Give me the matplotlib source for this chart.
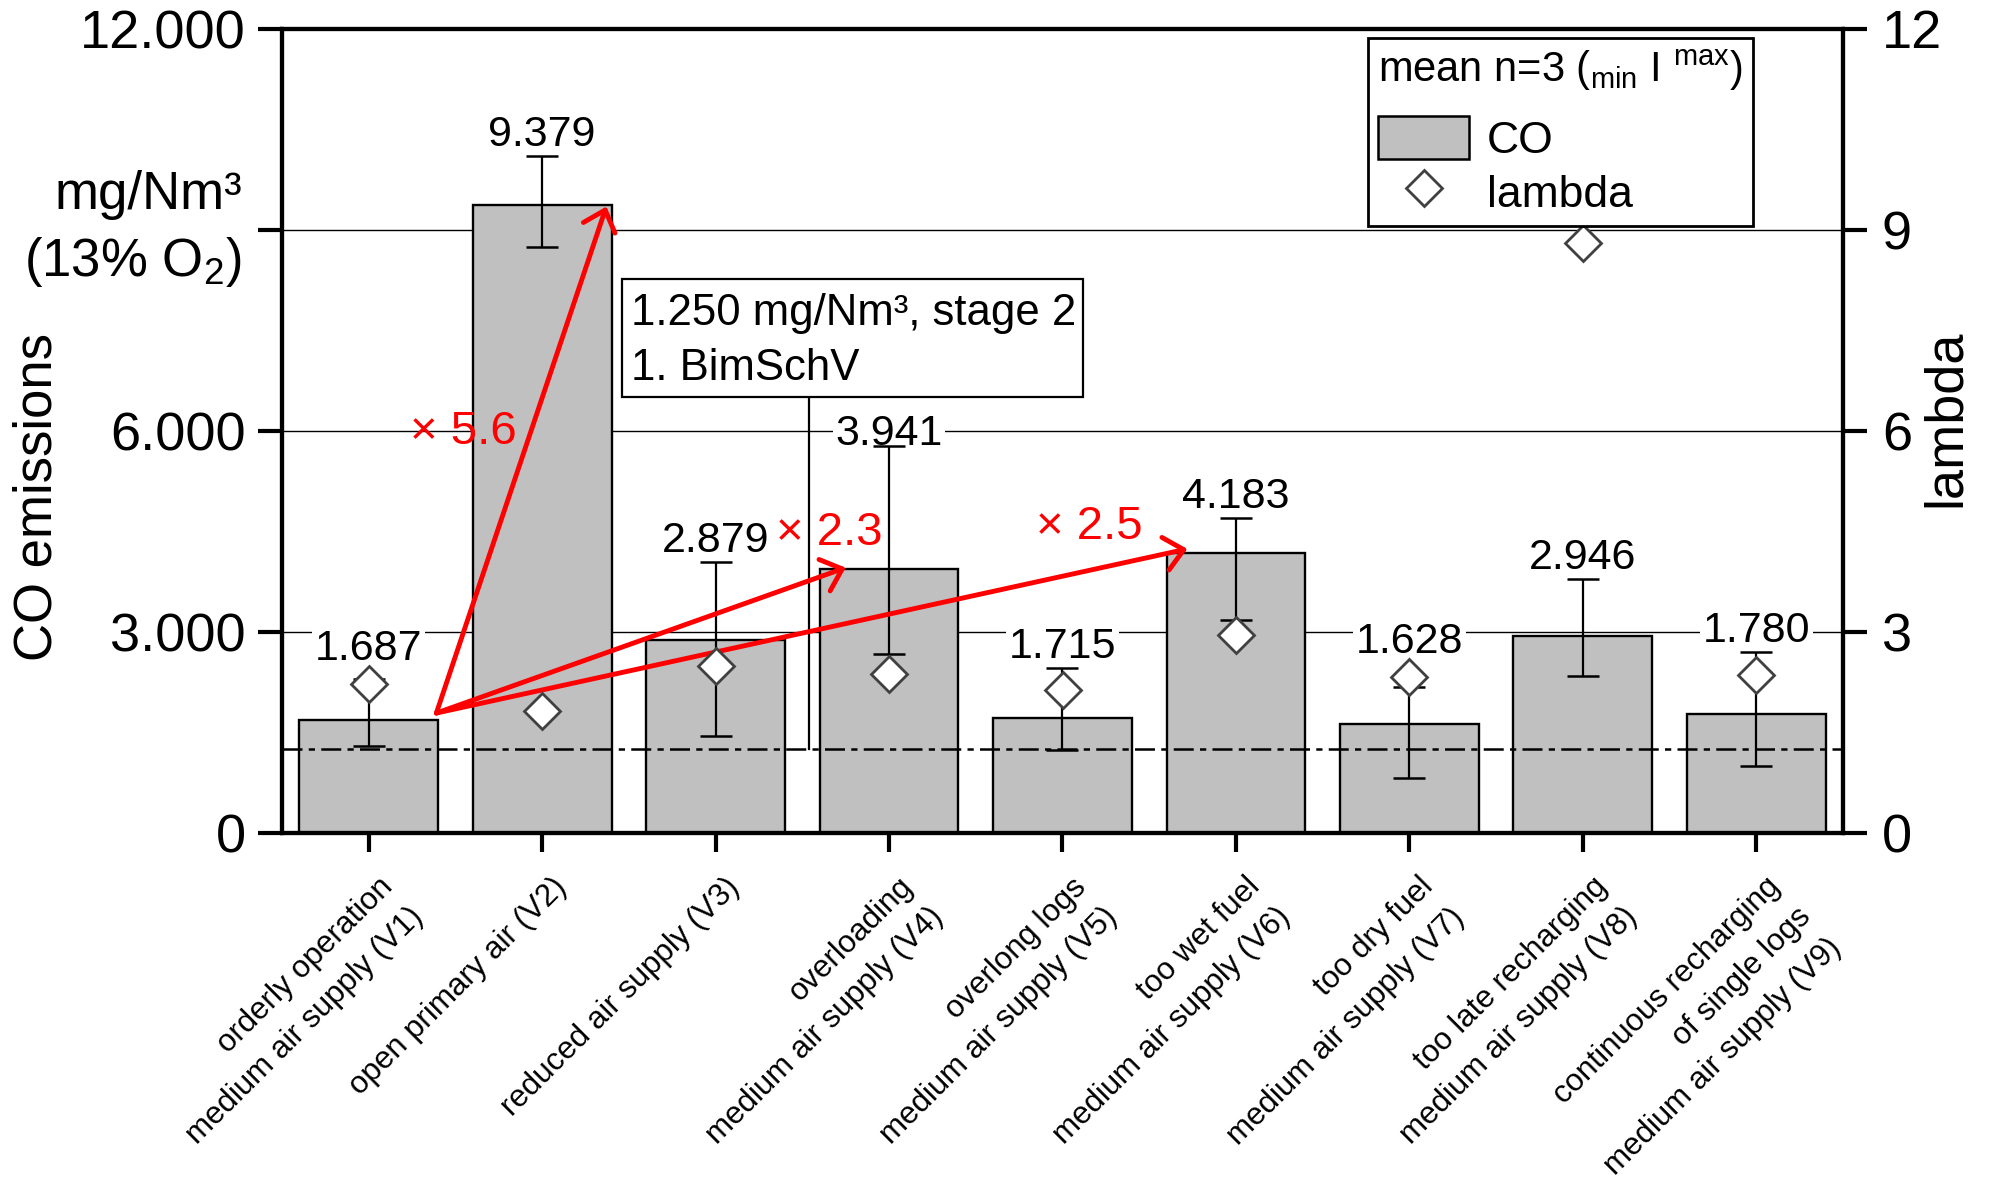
import numpy as np
import matplotlib
matplotlib.use('Agg')
import matplotlib.pyplot as plt
import matplotlib.transforms as mtransforms
from matplotlib.patches import Patch, Rectangle
from matplotlib.lines import Line2D

# ---------------- data ----------------
categories = [
    "orderly operation\nmedium air supply (V1)",
    "open primary air (V2)",
    "reduced air supply (V3)",
    "overloading\nmedium air supply (V4)",
    "overlong logs\nmedium air supply (V5)",
    "too wet fuel\nmedium air supply (V6)",
    "too dry fuel\nmedium air supply (V7)",
    "too late recharging\nmedium air supply (V8)",
    "continuous recharging\nof single logs\nmedium air supply (V9)",
]
co_mean = [1687, 9379, 2879, 3941, 1715, 4183, 1628, 2946, 1780]
co_min = [1300, 8740, 1450, 2670, 1240, 3180, 820, 2340, 1000]
co_max = [2300, 10100, 4040, 5780, 2460, 4700, 2180, 3790, 2700]
lambda_mean = [2.22, 1.82, 2.49, 2.37, 2.13, 2.96, 2.33, 8.81, 2.36]
limit_value = 1250
left_ticks = [0, 3000, 6000, 9000, 12000]
left_ticklabels = ["0", "3.000", "6.000", "", "12.000"]
right_ticks = [0, 3, 6, 9, 12]
factor_labels = ["\u00d7 5.6", "\u00d7 2.3", "\u00d7 2.5"]

# label vertical nudges (points) - layout only
label_nudge = [0, 0, 0, -7, 0, 0, 0, 0, 0]

# ---------------- style ----------------
plt.rcParams['font.family'] = ['Liberation Sans', 'DejaVu Sans']
plt.rcParams['mathtext.fontset'] = 'custom'
plt.rcParams['mathtext.rm'] = 'Liberation Sans'
plt.rcParams['mathtext.it'] = 'Liberation Sans:italic'
plt.rcParams['mathtext.bf'] = 'Liberation Sans:bold'

W, H = 1991, 1177
fig = plt.figure(figsize=(W / 100, H / 100), dpi=100)
L, R, T, B = 282, 1843, 29, 833
ax = fig.add_axes([L / W, 1 - B / H, (R - L) / W, (B - T) / H])

x = np.arange(len(categories))
mean = np.array(co_mean)
ax.bar(x, mean, width=0.8, color='#c0c0c0', edgecolor='black', linewidth=1.7, zorder=2)
yerr = [mean - np.array(co_min), np.array(co_max) - mean]
ax.errorbar(x, mean, yerr=yerr, fmt='none', ecolor='black', elinewidth=1.6,
            capsize=11.5, capthick=1.8, zorder=3)

ax.set_xlim(-0.5, len(categories) - 0.5)
ax.set_ylim(0, 12000)
ax.set_yticks(left_ticks)
ax.set_yticklabels(left_ticklabels)
ax.grid(axis='y', color='black', linewidth=1.0)
ax.set_axisbelow(True)

ax.axhline(limit_value, color='black', lw=1.8, linestyle=(0, (8, 2.5, 2.5, 2.5)), zorder=2.5)

ax.set_xticks(x)
ax.set_xticklabels(categories, rotation=45, ha='right', rotation_mode='anchor',
                   multialignment='right', fontsize=22.5, linespacing=1.55)
ax.tick_params(axis='x', direction='out', length=14, width=3, pad=14)
ax.tick_params(axis='y', direction='out', length=17, width=3, labelsize=39, pad=9)
shift = mtransforms.ScaledTranslation(6.5 / 72, 0, fig.dpi_scale_trans)
for lab in ax.get_xticklabels():
    lab.set_transform(lab.get_transform() + shift)
for s in ax.spines.values():
    s.set_linewidth(3)

# value labels (above the max whisker, or above a diamond sitting just over it)
for i in range(len(categories)):
    lam_top = lambda_mean[i] * 1000 + 200
    base = lam_top if co_max[i] < lam_top < co_max[i] + 1000 else co_max[i]
    ax.annotate(f"{co_mean[i] / 1000:.3f}", (x[i], base), xytext=(0, 1.0 + label_nudge[i]),
                textcoords='offset points', ha='center', va='bottom', fontsize=31,
                bbox=dict(boxstyle='square,pad=0.06', fc='white', ec='none'), zorder=2.8)

# limit annotation box
bx0, bx1, by0, by1 = 1.458, 4.121, 6510, 8270
ax.add_patch(Rectangle((bx0, by0), bx1 - bx0, by1 - by0, fc='white', ec='black', lw=1.6, zorder=6))
ax.text(1.515, 7580, "1.250 mg/Nm\u00b3, stage 2", fontsize=31.5, va='baseline', ha='left', zorder=7)
ax.text(1.515, 6760, "1. BimSchV", fontsize=31.5, va='baseline', ha='left', zorder=7)
ax.plot([2.54, 2.54], [limit_value, by0], color='black', lw=1.6, zorder=5)

# red factor arrows
start = (0.39, 1790)
ends = [(1.37, 9350), (2.75, 3960), (4.72, 4240)]
label_pos = [(0.236, 5990), (2.35, 4480), (3.85, 4570)]
for e, lab, lp in zip(ends, factor_labels, label_pos):
    ax.annotate('', xy=e, xytext=start,
                arrowprops=dict(arrowstyle='->,head_length=0.9,head_width=0.8', color='red',
                                lw=3.5, shrinkA=0, shrinkB=0, mutation_scale=15), zorder=5)
    ax.text(lp[0], lp[1], lab, color='red', fontsize=34, ha='left', va='center', zorder=5)

# lambda axis
ax2 = ax.twinx()
ax2.set_ylim(0, 12)
ax2.set_yticks(right_ticks)
ax2.plot(x, lambda_mean, linestyle='none', marker='D', markersize=18, mfc='white',
         mec='#404040', mew=2, zorder=5)
ax2.tick_params(axis='y', direction='out', length=17, width=3, labelsize=39, pad=11)
for s in ax2.spines.values():
    s.set_linewidth(3)

handles = [Patch(facecolor='#c0c0c0', edgecolor='black', linewidth=1.8),
           Line2D([], [], linestyle='none', marker='D', markersize=18, mfc='white',
                  mec='#404040', mew=2)]
leg = ax2.legend(handles, ['CO', 'lambda'],
                 title=r"mean n=3 ($_{\mathrm{min}}$ I $^{\mathrm{max}}$)",
                 loc='upper left', bbox_to_anchor=(0.6957, 0.9888), fontsize=32,
                 title_fontsize=30, frameon=True, fancybox=False, edgecolor='black',
                 framealpha=1, borderpad=0.23, handlelength=2.05, handleheight=1.14,
                 handletextpad=0.4, labelspacing=0.18, alignment='left', borderaxespad=0)
leg.get_frame().set_linewidth(2)
leg._legend_box.sep = 16

# axis titles
fig.text(38 / W, 1 - 497 / H, 'CO emissions', rotation=90, ha='center', va='center', fontsize=38)
fig.text(242 / W, 1 - 195 / H, 'mg/Nm\u00b3', ha='right', va='center', fontsize=38)
fig.text(242 / W, 1 - 262 / H, '(13% O$_2$)', ha='right', va='center', fontsize=38)
fig.text(1946 / W, 1 - 418 / H, 'lambda', rotation=90, ha='center', va='center', fontsize=39)

fig.savefig('out.png', dpi=100)
